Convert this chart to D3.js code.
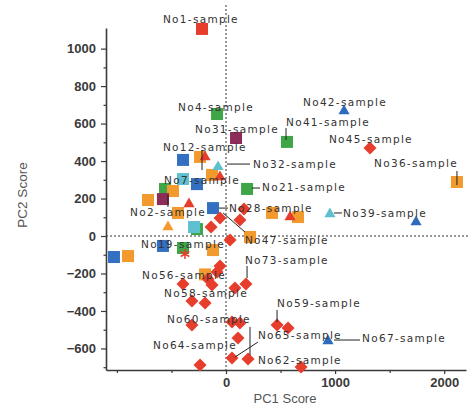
<!DOCTYPE html>
<html>
<head>
<meta charset="utf-8">
<script src="https://cdn.jsdelivr.net/npm/d3@7"></script>
<style>
  html, body { margin: 0; padding: 0; background: #fff; }
  svg { display: block; }
</style>
</head>
<body>
<svg id="chart" width="468" height="405"></svg>
<script>
// ---------- DATA (PC1 score, PC2 score) ----------
const redSquares = [[-220, 1105]];
const greenSquares = [[-82, 651], [559, 502], [193, 251], [-559, 251], [-266, 37], [-394, -64]];
const orangeSquares = [[2117, 288], [-238, 422], [-128, 326], [-486, 240], [-715, 192], [-898, -107],
  [-119, -75], [220, -5], [422, 123], [660, 101], [-192, -205], [-440, 123]];
const maroonSquares = [[92, 523], [-578, 197]];
const tealSquares = [[-394, 304], [-293, 48]];
const blueSquares = [[-394, 406], [-266, 277], [-119, 149], [-578, -53], [-1027, -112]];
const blueTriangles = [[1082, 672], [1742, 80], [935, -555]];
const tealTriangles = [[-73, 374], [953, 123]];
const redTriangles = [[-192, 427], [-339, 176], [587, 107], [-55, 320]];
const orangeTriangles = [[-532, 53]];
const redDiamonds = [[1320, 470], [-55, 96], [-137, 48], [165, 144], [128, 85], [37, -21],
  [-394, -256], [-128, -261], [-165, -229], [-82, -192], [82, -277], [183, -256],
  [-312, -347], [-192, -357], [-312, -475], [55, -459], [128, -464], [110, -544],
  [-238, -688], [55, -651], [202, -656], [468, -475], [569, -491], [688, -699], [-55, -160]];
const redStars = [[-376, -96]];

// sample labels: text, anchor (PC1, PC2) of the left edge / middle of the text
const labelText = ["No1-sample", "No4-sample", "No31-sample", "No42-sample", "No41-sample",
  "No45-sample", "No36-sample", "No12-sample", "No32-sample", "No7-sample", "No21-sample",
  "No2-sample", "No28-sample", "No47-sample", "No19-sample", "No73-sample", "No56-sample",
  "No58-sample", "No60-sample", "No64-sample", "No59-sample", "No65-sample", "No62-sample",
  "No67-sample", "No39-sample"];
const labelPC1 = [-578, -440, -284, 706, 550, 944, 1357, -578, 248, -568, 330, -880, 27, 174,
  -779, 174, -770, -568, -541, -669, 468, 293, 293, 1247, 1073];
const labelPC2 = [1158, 688, 571, 715, 608, 518, 390, 475, 384, 299, 261, 128, 149, -21,
  -43, -128, -208, -304, -443, -582, -358, -528, -662, -544, 123];

// leader lines [pc1a, pc2a, pc1b, pc2b]
const leaders = [[2117, 347, 2117, 272], [550, 576, 550, 512], [-220, 459, -220, 352],
  [9, 384, 220, 384], [238, 256, 312, 256], [-64, 149, 18, 149], [-27, 123, 174, 21],
  [-532, 219, -532, 155], [990, 123, 1063, 123], [990, -555, 1228, -555],
  [193, -160, 193, -224], [468, -395, 468, -459], [220, -485, 220, -635], [293, -566, 82, -646]];

const xTicksMajor = [0, 1000, 2000];
const xTicksMinor = [-1000, -500, 500, 1500];
const yTicksMajor = [-600, -400, -200, 0, 200, 400, 600, 800, 1000];
const yTicksMinor = [-700, -500, -300, -100, 100, 300, 500, 700, 900];

// ---------- STYLE ----------
const C = {
  red: "#e63d2c", orange: "#f39a2e", green: "#3fa648", maroon: "#8c2c57",
  teal: "#5fc1d0", blue: "#3470c2", blueTri: "#2f6bbd"
};
const series = [
  { data: greenSquares, shape: "square", color: C.green },
  { data: orangeSquares, shape: "square", color: C.orange },
  { data: maroonSquares, shape: "square", color: C.maroon },
  { data: tealSquares, shape: "square", color: C.teal },
  { data: blueSquares, shape: "square", color: C.blue },
  { data: redSquares, shape: "square", color: C.red },
  { data: orangeTriangles, shape: "triangle", color: C.orange },
  { data: tealTriangles, shape: "triangle", color: C.teal },
  { data: blueTriangles, shape: "triangle", color: C.blueTri },
  { data: redTriangles, shape: "triangle", color: C.red },
  { data: redDiamonds, shape: "diamond", color: C.red },
  { data: redStars, shape: "star", color: C.red }
];

const svg = d3.select("#chart");
const x = d3.scaleLinear().domain([-1100, 2200]).range([106, 466]);
const y = d3.scaleLinear().domain([-715, 1110]).range([370, 28]);

// zero dashed lines
svg.append("line")
  .attr("x1", x(-1100)).attr("x2", 468).attr("y1", y(0)).attr("y2", y(0))
  .attr("stroke", "#333").attr("stroke-width", 1).attr("stroke-dasharray", "2,2");
svg.append("line")
  .attr("x1", x(0)).attr("x2", x(0)).attr("y1", 5).attr("y2", y(-715))
  .attr("stroke", "#333").attr("stroke-width", 1).attr("stroke-dasharray", "2,2");

// axes
const tickFont = "'Liberation Sans', Arial, sans-serif";
const fmt = d3.format("d");
svg.append("g").attr("transform", `translate(${x(-1100)},0)`)
  .call(d3.axisLeft(y).tickValues(yTicksMajor).tickFormat(fmt).tickSize(5).tickPadding(5).tickSizeOuter(0));
svg.append("g").attr("transform", `translate(${x(-1100)},0)`)
  .call(d3.axisLeft(y).tickValues(yTicksMinor).tickSize(2.5).tickFormat("").tickSizeOuter(0))
  .select(".domain").remove();
svg.append("g").attr("transform", `translate(0,${y(-715)})`)
  .call(d3.axisBottom(x).tickValues(xTicksMajor).tickFormat(fmt).tickSize(4).tickPadding(4).tickSizeOuter(0));
svg.append("g").attr("transform", `translate(0,${y(-715)})`)
  .call(d3.axisBottom(x).tickValues(xTicksMinor).tickSize(3).tickFormat("").tickSizeOuter(0))
  .select(".domain").remove();
svg.selectAll(".domain").attr("stroke", "#3a3a3a").attr("stroke-width", 1.6);
svg.selectAll(".tick line").attr("stroke", "#3a3a3a").attr("stroke-width", 1.2);
svg.selectAll(".tick text").attr("font-family", tickFont).attr("font-size", 13)
  .attr("fill", "#3a3a3a").attr("font-weight", "bold");

// markers
const tri = "M0,-5.5L5.6,4.2L-5.6,4.2Z";
const plot = svg.append("g");
series.forEach(s => {
  const g = plot.selectAll(null).data(s.data).enter();
  if (s.shape === "square") {
    g.append("rect").attr("x", d => x(d[0]) - 6).attr("y", d => y(d[1]) - 6)
      .attr("width", 12).attr("height", 12).attr("fill", s.color);
  } else if (s.shape === "triangle") {
    g.append("path").attr("d", tri)
      .attr("transform", d => `translate(${x(d[0])},${y(d[1])})`).attr("fill", s.color);
  } else if (s.shape === "diamond") {
    g.append("rect").attr("x", -4.6).attr("y", -4.6).attr("width", 9.2).attr("height", 9.2)
      .attr("transform", d => `translate(${x(d[0])},${y(d[1])}) rotate(45)`).attr("fill", s.color);
  } else {
    g.append("path").attr("d", d3.symbol(d3.symbolAsterisk, 70)())
      .attr("transform", d => `translate(${x(d[0])},${y(d[1])})`)
      .attr("fill", "none").attr("stroke", s.color).attr("stroke-width", 1.5);
  }
});

// leader lines
svg.append("g").selectAll("line").data(leaders).enter().append("line")
  .attr("x1", d => x(d[0])).attr("y1", d => y(d[1]))
  .attr("x2", d => x(d[2])).attr("y2", d => y(d[3]))
  .attr("stroke", "#222").attr("stroke-width", 1);

// labels
svg.append("g").selectAll("text").data(labelText).enter().append("text")
  .attr("x", (d, i) => x(labelPC1[i])).attr("y", (d, i) => y(labelPC2[i]))
  .attr("dy", "0.35em")
  .attr("font-family", "'DejaVu Sans', sans-serif").attr("font-size", 10.5)
  .attr("letter-spacing", 1.3).attr("fill", "#333")
  .text(d => d);

// axis titles
svg.append("text").attr("x", 285).attr("y", 403).attr("text-anchor", "middle")
  .attr("font-family", "'Liberation Sans', Arial, sans-serif").attr("font-size", 13)
  .attr("fill", "#555").text("PC1 Score");
svg.append("text").attr("transform", "translate(27,195) rotate(-90)").attr("text-anchor", "middle")
  .attr("font-family", "'Liberation Sans', Arial, sans-serif").attr("font-size", 13.5)
  .attr("fill", "#555").text("PC2 Score");
</script>
</body>
</html>
